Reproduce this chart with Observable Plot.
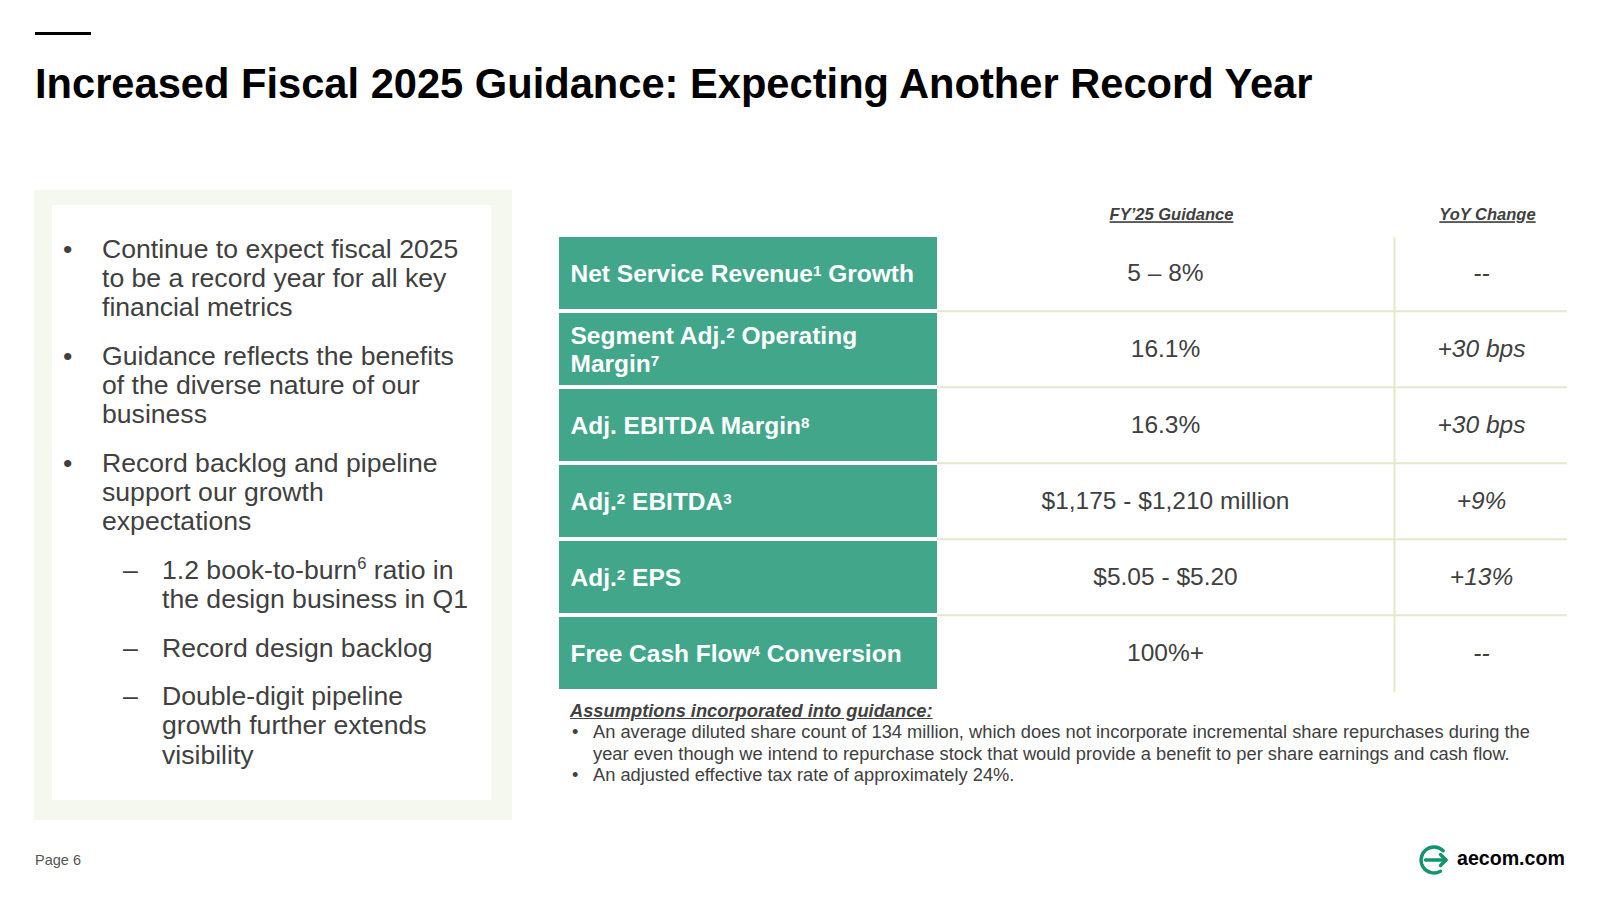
<!DOCTYPE html>
<html>
<head>
<meta charset="utf-8">
<script src="https://cdn.jsdelivr.net/npm/d3@7"></script>
<script src="https://cdn.jsdelivr.net/npm/@observablehq/plot@0.6"></script>
<style>
  html, body { margin: 0; padding: 0; background: #fff; }
  #page { position: relative; width: 1600px; height: 900px; overflow: hidden;
          font-family: "Liberation Sans", Arial, sans-serif; color: #404040; background: #fff; }
  .topbar { position: absolute; left: 35px; top: 32px; width: 56px; height: 3px; background: #000; }
  .title { position: absolute; left: 35px; top: 60px; margin: 0; font-size: 41.65px; line-height: 48px;
           font-weight: 700; color: #000; white-space: nowrap; }
  .panel-outer { position: absolute; left: 34px; top: 190px; width: 478px; height: 630px; background: #f5f8ee; }
  .panel-inner { position: absolute; left: 52px; top: 205px; width: 439px; height: 595px; background: #fff; }
  #bullets { position: absolute; left: 0; top: 234.5px; width: 500px; font-size: 26.6px; line-height: 29.3px; color: #404040; }
  .item { position: relative; white-space: nowrap; }
  .item + .item { margin-top: 19.2px; }
  .item .mk { position: absolute; top: 0; }
  .l1 { padding-left: 102px; }
  .l1 .mk { left: 63px; }
  .l2 { padding-left: 162px; }
  .l2 .mk { left: 123px; }
  sup { font-size: 62%; line-height: 0; vertical-align: 0; position: relative; top: -0.62em; }
  #table { position: absolute; left: 559px; top: 195px; }
  #assume { position: absolute; left: 570px; top: 700px; width: 1000px; color: #404040;
            font-family: "Liberation Sans", Arial, sans-serif;
            font-size: 18.3px; line-height: 21.4px; }
  #assume .head { font-weight: 700; font-style: italic; text-decoration: underline; }
  #assume .ab { position: relative; padding-left: 23px; white-space: nowrap; }
  #assume .ab .mk { position: absolute; left: 2px; top: 0; }
  .pagenum { position: absolute; left: 35px; top: 851px; font-size: 14.5px; line-height: 18px; color: #555; }
  .logo-text { position: absolute; left: 1457px; top: 846px; font-size: 19.6px; line-height: 24px; font-weight: 700; color: #000; }
  .logo-icon { position: absolute; left: 1416px; top: 842px; }
</style>
</head>
<body>
<div id="page">
  <div class="topbar"></div>
  <div class="title" id="title"></div>
  <div class="panel-outer"></div>
  <div class="panel-inner"></div>
  <div id="bullets"></div>
  <div id="table"></div>
  <div id="assume"></div>
  <div class="pagenum" id="pagenum"></div>
  <svg class="logo-icon" width="40" height="36" viewBox="0 0 40 36">
    <path d="M27.2 8.8 A13 13 0 1 0 24.5 29.3" fill="none" stroke="#11956f" stroke-width="3.4" stroke-linecap="round"/>
    <path d="M9.5 18 H30" fill="none" stroke="#11956f" stroke-width="3.4" stroke-linecap="round"/>
    <path d="M24.5 12.5 L30 18 L24.5 23.5" fill="none" stroke="#11956f" stroke-width="3.4" stroke-linecap="round" stroke-linejoin="round"/>
  </svg>
  <div class="logo-text" id="logotext"></div>
</div>
<script>
// ---------- data ----------
const titleText = "Increased Fiscal 2025 Guidance: Expecting Another Record Year";
const pageLabel = "Page 6";
const siteLabel = "aecom.com";

const bulletLevels = [1, 1, 1, 2, 2, 2];
const bulletLines = [
  ["Continue to expect fiscal 2025", "to be a record year for all key", "financial metrics"],
  ["Guidance reflects the benefits", "of the diverse nature of our", "business"],
  ["Record backlog and pipeline", "support our growth", "expectations"],
  ["1.2 book-to-burn^6 ratio in", "the design business in Q1"],
  ["Record design backlog"],
  ["Double-digit pipeline", "growth further extends", "visibility"]
];

const metrics = [
  "Net Service Revenue^1 Growth",
  "Segment Adj.^2 Operating\nMargin^7",
  "Adj. EBITDA Margin^8",
  "Adj.^2 EBITDA^3",
  "Adj.^2 EPS",
  "Free Cash Flow^4 Conversion"
];
const guidance = ["5 – 8%", "16.1%", "16.3%", "$1,175 - $1,210 million", "$5.05 - $5.20", "100%+"];
const yoyChange = ["--", "+30 bps", "+30 bps", "+9%", "+13%", "--"];
const columnHeaders = ["FY’25 Guidance", "YoY Change"];

const assumptionsTitle = "Assumptions incorporated into guidance:";
const assumptions = [
  ["An average diluted share count of 134 million, which does not incorporate incremental share repurchases during the",
   "year even though we intend to repurchase stock that would provide a benefit to per share earnings and cash flow."],
  ["An adjusted effective tax rate of approximately 24%."]
];

// ---------- helpers ----------
const esc = s => s.replace(/&/g, "&amp;").replace(/</g, "&lt;");
const sup = s => esc(s).replace(/\^(\d+)/g, "<sup>$1</sup>");

document.getElementById("title").textContent = titleText;
document.getElementById("pagenum").textContent = pageLabel;
document.getElementById("logotext").textContent = siteLabel;

// left bullet panel
const bl = document.getElementById("bullets");
bulletLines.forEach((lines, i) => {
  const lvl = bulletLevels[i];
  const div = document.createElement("div");
  div.className = "item l" + lvl;
  div.innerHTML = `<span class="mk">${lvl === 1 ? "•" : "–"}</span>` + lines.map(sup).join("<br>");
  bl.appendChild(div);
});

// assumptions
const as = document.getElementById("assume");
as.innerHTML = `<div class="head">${esc(assumptionsTitle)}</div>` +
  assumptions.map(lines => `<div class="ab"><span class="mk">•</span>${lines.map(esc).join("<br>")}</div>`).join("");

// ---------- table drawn with Plot ----------
const GREEN = "#42a68b";
const LINE = "#e2eacb";
const TXT = "#404040";
const rows = metrics.map((m, i) => ({metric: m, guidance: guidance[i], yoy: yoyChange[i]}));

const layout = {
  width: 1011, height: 497, top: 42,
  labelRight: 378, labelPad: 11,
  guidanceX: 606, dividerX: 835, yoyX: 922, right: 1008,
  headerX: [612, 928], headerDy: -29,
  gap: 0.05
};
const step = (layout.height - layout.top) / (metrics.length - layout.gap);

const table = Plot.plot({
  width: layout.width,
  height: layout.height,
  marginTop: layout.top, marginBottom: 0, marginLeft: 0, marginRight: 0,
  x: {type: "linear", domain: [0, layout.width], range: [0, layout.width], axis: null},
  y: {type: "band", domain: metrics, axis: null, paddingInner: layout.gap, paddingOuter: 0, align: 0},
  style: {fontFamily: "'Liberation Sans', Arial, sans-serif", background: "transparent", overflow: "visible"},
  marks: [
    Plot.ruleY(rows.slice(1), {y: "metric", x1: layout.labelRight, x2: layout.right, dy: -step / 2, stroke: LINE, strokeWidth: 2}),
    Plot.ruleX([layout.dividerX], {x: d => d, stroke: LINE, strokeWidth: 2}),
    Plot.barX(rows, {y: "metric", x1: 0, x2: layout.labelRight, fill: GREEN}),
    Plot.text(rows, {y: "metric", x: layout.labelPad, text: "metric", textAnchor: "start",
                     fill: "white", fontWeight: "bold", fontSize: 24.5, lineHeight: 1.14}),
    Plot.text(rows, {y: "metric", x: layout.guidanceX, text: "guidance", fill: TXT, fontSize: 24.5}),
    Plot.text(rows, {y: "metric", x: layout.yoyX, text: "yoy", fill: TXT, fontSize: 24.5, fontStyle: "italic"}),
    Plot.text(columnHeaders, {x: (d, i) => layout.headerX[i], text: d => d, frameAnchor: "top", dy: layout.headerDy,
                              fill: TXT, fontSize: 16.5, fontWeight: "bold", fontStyle: "italic"})
  ]
});

// superscripts and underlines
const SVGNS = "http://www.w3.org/2000/svg";
table.querySelectorAll("text, tspan").forEach(el => {
  if (el.children.length) return;
  const s = el.textContent;
  if (!/\^\d/.test(s)) return;
  el.textContent = "";
  s.split(/(\^\d+)/).forEach(part => {
    if (!part) return;
    if (part[0] === "^") {
      const t = document.createElementNS(SVGNS, "tspan");
      t.setAttribute("baseline-shift", "6.5px");
      t.setAttribute("font-size", "62%");
      t.textContent = part.slice(1);
      el.appendChild(t);
    } else {
      el.appendChild(document.createTextNode(part));
    }
  });
});
table.querySelectorAll("text").forEach(el => {
  if (columnHeaders.includes(el.textContent)) el.style.textDecoration = "underline";
});

document.getElementById("table").appendChild(table);
</script>
</body>
</html>
